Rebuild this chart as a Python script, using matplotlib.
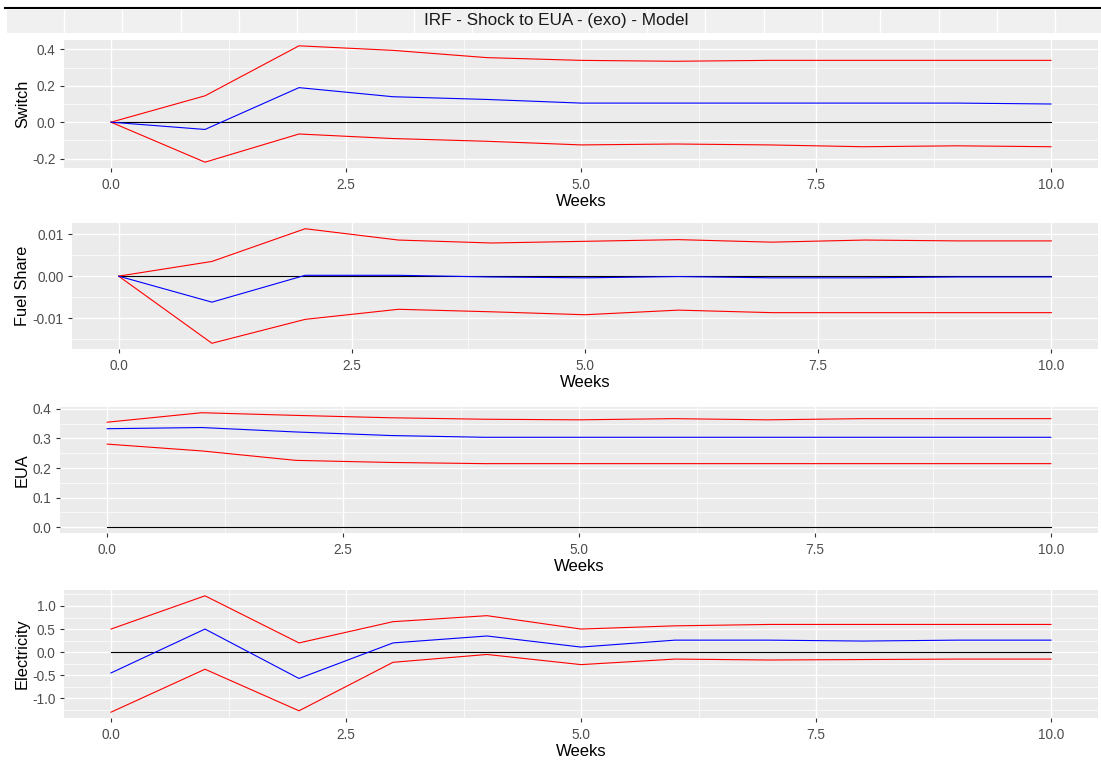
import numpy as np
import matplotlib
matplotlib.use("Agg")
import matplotlib.pyplot as plt
from matplotlib.patches import Rectangle
from matplotlib.ticker import MultipleLocator, FormatStrFormatter

plt.rcParams['font.family'] = ['Liberation Sans', 'DejaVu Sans']

weeks = list(range(11))

switch_irf = [0.0, -0.04, 0.19, 0.14, 0.125, 0.105, 0.105, 0.105, 0.105, 0.105, 0.10]
switch_up = [0.0, 0.145, 0.42, 0.395, 0.355, 0.34, 0.335, 0.34, 0.34, 0.34, 0.34]
switch_lo = [0.0, -0.22, -0.065, -0.09, -0.105, -0.125, -0.12, -0.125, -0.135, -0.13, -0.135]

fuel_irf = [0.0, -0.0062, 0.0002, 0.0002, -0.0002, -0.0004, -0.0001, -0.0004, -0.0004, -0.0002, -0.0002]
fuel_up = [0.0, 0.0035, 0.0113, 0.0086, 0.0079, 0.0083, 0.0087, 0.0081, 0.0086, 0.0084, 0.0084]
fuel_lo = [0.0, -0.016, -0.0103, -0.0079, -0.0085, -0.0092, -0.0081, -0.0087, -0.0087, -0.0087, -0.0087]

eua_irf = [0.333, 0.337, 0.322, 0.31, 0.304, 0.304, 0.304, 0.304, 0.304, 0.304, 0.304]
eua_up = [0.355, 0.387, 0.378, 0.37, 0.365, 0.363, 0.367, 0.363, 0.367, 0.367, 0.367]
eua_lo = [0.281, 0.258, 0.226, 0.219, 0.215, 0.215, 0.215, 0.215, 0.215, 0.215, 0.215]

elec_irf = [-0.45, 0.5, -0.57, 0.2, 0.35, 0.11, 0.26, 0.26, 0.24, 0.26, 0.26]
elec_up = [0.5, 1.22, 0.2, 0.66, 0.79, 0.5, 0.57, 0.6, 0.6, 0.6, 0.6]
elec_lo = [-1.3, -0.37, -1.27, -0.22, -0.05, -0.27, -0.15, -0.17, -0.16, -0.15, -0.15]

title = "IRF - Shock to EUA - (exo) - Model"

W, H = 1101, 760
fig = plt.figure(figsize=(W / 100, H / 100), dpi=100)

# screenshot strip at the top
fig.add_artist(plt.Line2D([5 / W, 1], [1 - 8 / H, 1 - 8 / H], color='black', lw=1.5))
fig.add_artist(Rectangle((7 / W, 1 - 33 / H), 1 - 7 / W, 23 / H, color='#F0F0F0', lw=0))
for xv in np.arange(64, 1100, 58.3):
    fig.add_artist(plt.Line2D([xv / W, xv / W], [1 - 33 / H, 1 - 10 / H], color='white', lw=1))
fig.text(556 / W, 1 - 21 / H, title, ha='center', va='center', fontsize=12.3, color='#1A1A1A')

panels = [
    # left, top, bottom (px), ylabel, irf, up, lo, y major, y minor, fmt
    (64, 40, 168, "Switch", switch_irf, switch_up, switch_lo, 0.2, 0.1, "%.1f"),
    (72, 223, 349, "Fuel Share", fuel_irf, fuel_up, fuel_lo, 0.01, 0.005, "%.2f"),
    (60, 407, 533, "EUA", eua_irf, eua_up, eua_lo, 0.1, 0.05, "%.1f"),
    (64, 590, 718, "Electricity", elec_irf, elec_up, elec_lo, 0.5, 0.25, "%.1f"),
]

for left, top, bottom, ylab, irf, up, lo, maj, mnr, fmt in panels:
    ax = fig.add_axes([left / W, 1 - bottom / H, (1098 - left) / W, (bottom - top) / H])
    ax.set_facecolor('#EBEBEB')
    for s in ax.spines.values():
        s.set_visible(False)
    ax.plot(weeks, [0] * len(weeks), color='black', lw=0.8, zorder=3)
    ax.plot(weeks, up, color='red', lw=0.8, zorder=4)
    ax.plot(weeks, lo, color='red', lw=0.8, zorder=4)
    ax.plot(weeks, irf, color='blue', lw=0.8, zorder=4)

    allv = up + lo + irf + [0]
    lo_v, hi_v = min(allv), max(allv)
    pad = (hi_v - lo_v) * 0.05
    ax.set_ylim(lo_v - pad, hi_v + pad)
    ax.set_xlim(-0.5, 10.5)

    ax.xaxis.set_major_locator(MultipleLocator(2.5))
    ax.xaxis.set_minor_locator(MultipleLocator(1.25))
    ax.yaxis.set_major_locator(MultipleLocator(maj))
    ax.yaxis.set_minor_locator(MultipleLocator(mnr))
    ax.xaxis.set_major_formatter(FormatStrFormatter("%.1f"))
    ax.yaxis.set_major_formatter(FormatStrFormatter(fmt))
    ax.grid(which='major', color='white', lw=1.0)
    ax.grid(which='minor', color='white', lw=0.5)
    ax.set_axisbelow(True)
    ax.tick_params(which='major', length=3, width=0.8, color='#333333',
                   labelsize=9.8, labelcolor='#4D4D4D', pad=3)
    ax.tick_params(axis='x', which='major', pad=4.5)
    ax.tick_params(which='minor', length=0)
    ax.set_xlabel("Weeks", fontsize=12, labelpad=1)
    ax.set_ylabel(ylab, fontsize=11.8)
    ax.yaxis.set_label_coords(30 / W, 1 - (top + bottom) / 2 / H, transform=fig.transFigure)

fig.savefig("out.png", dpi=100)
